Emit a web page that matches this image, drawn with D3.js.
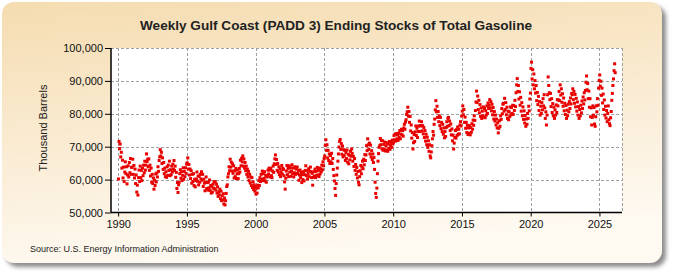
<!DOCTYPE html>
<html>
<head>
<meta charset="utf-8">
<script src="https://cdn.jsdelivr.net/npm/d3@7/dist/d3.min.js"></script>
<style>
  body { margin: 0; background: #fff; }
  text { font-family: "Liberation Sans", Arial, sans-serif; }
</style>
</head>
<body>
<svg id="chart" width="675" height="275"></svg>
<script>
// readings, 24 per year (thousand barrels), Jan -> Dec
const startYear = 1990;
const perYear = 24;
const stocks = [
  // 1990
  60200, 71600, 69400, 70800, 66900, 68300, 63500, 65900, 60500, 63800, 59400, 62300, 65400, 61800, 63900, 58700, 61400, 64200, 60800, 65200, 62100, 66400, 61600, 63700,
  // 1991
  63800, 66200, 61600, 64300, 60500, 63200, 58800, 61400, 56200, 58300, 55300, 60600, 62900, 59400, 64100, 60600, 62800, 59700, 63500, 61200, 64400, 62100, 65600, 62900,
  // 1992
  64400, 67800, 65500, 66200, 63900, 66300, 62800, 64400, 61100, 63500, 59200, 61600, 58800, 60500, 57100, 59800, 58200, 61700, 59300, 62000, 60800, 63900, 62500, 65800,
  // 1993
  66900, 69100, 67200, 68300, 64900, 66600, 63100, 65200, 61800, 63500, 60900, 62400, 60700, 63900, 61300, 64400, 62800, 65600, 61200, 63000, 61500, 64100, 62300, 64700,
  // 1994
  63200, 65800, 62800, 64100, 60700, 62200, 57300, 59100, 56100, 58400, 59200, 61800, 63000, 60400, 62400, 59700, 61300, 63600, 60100, 62500, 60900, 63600, 61900, 64700,
  // 1995
  65100, 66600, 63200, 64600, 61400, 63200, 60300, 62700, 58900, 61600, 59400, 61800, 58200, 60100, 57800, 59700, 60200, 62300, 59500, 61100, 58400, 61000, 59200, 61600,
  // 1996
  60200, 62400, 59800, 61600, 57900, 60100, 58900, 56600, 59200, 60800, 57300, 59100, 56800, 59200, 57500, 59900, 56700, 58200, 55900, 57800, 56200, 58600, 57400, 59400,
  // 1997
  57200, 59300, 56800, 58600, 55900, 57800, 54900, 56300, 55400, 57100, 54200, 56500, 53600, 55100, 53800, 55700, 52600, 54400, 52300, 53600, 55800, 57900, 58400, 60800,
  // 1998
  61800, 63900, 62700, 66200, 63800, 65300, 62600, 64800, 61900, 64200, 60500, 62700, 60900, 63400, 60300, 61800, 62900, 60300, 61800, 63400, 62300, 65900, 64200, 66500,
  // 1999
  65400, 67200, 64100, 66300, 63500, 65200, 62700, 64100, 61600, 63200, 60800, 62500, 59700, 61600, 59000, 60800, 58200, 60600, 57600, 59300, 57000, 58400, 56500, 57800,
  // 2000
  55600, 57400, 55900, 58300, 57500, 59700, 58200, 60600, 59400, 61600, 60100, 62600, 59700, 61800, 60400, 62400, 59600, 61300, 59200, 60800, 61100, 62900, 61700, 63500,
  // 2001
  62900, 60800, 63400, 61200, 60600, 62600, 64100, 62200, 64800, 66300, 67500, 64600, 66100, 62800, 64900, 62300, 63900, 61500, 63300, 60900, 62400, 64300, 61700, 63400,
  // 2002
  63100, 61200, 59300, 57100, 60400, 62600, 64300, 61500, 63400, 60900, 64200, 62300, 63600, 61000, 62600, 64500, 61800, 63500, 60800, 62100, 63900, 61600, 63200, 61800,
  // 2003
  63800, 61900, 62800, 59800, 61400, 62900, 60600, 62200, 59100, 61500, 60000, 62400, 59600, 61500, 62800, 64200, 61200, 62700, 60200, 61800, 63300, 60900, 62500, 63800,
  // 2004
  62400, 60600, 61900, 58300, 60700, 62400, 61100, 63200, 60600, 62500, 61300, 63700, 61400, 62800, 60900, 63500, 61700, 63300, 62400, 64400, 63000, 65400, 64200, 66400,
  // 2005
  67200, 70400, 72100, 68900, 70600, 66600, 68900, 65800, 67800, 64900, 67300, 65400, 68000, 64900, 66400, 63100, 61200, 59600, 57300, 55200, 58800, 61400, 63500, 65600,
  // 2006
  67800, 69900, 71600, 72200, 69200, 71000, 67700, 70200, 66900, 69100, 67300, 68900, 65800, 68200, 66400, 69000, 65300, 67700, 64800, 67400, 66000, 68600, 67100, 69300,
  // 2007
  68000, 65600, 67100, 64000, 66400, 62800, 64600, 61600, 63700, 60500, 62500, 59200, 58400, 60900, 62700, 64300, 61800, 63800, 65600, 63300, 66200, 64500, 67600, 65800,
  // 2008
  67500, 70300, 68800, 72400, 70600, 69200, 71100, 67800, 70500, 66900, 68800, 66100, 67800, 65200, 66700, 63100, 59200, 55800, 54600, 57400, 61800, 65600, 67900, 69800,
  // 2009
  70300, 72500, 70600, 71900, 69300, 71800, 68900, 70700, 69300, 71400, 68700, 70300, 69000, 71200, 68600, 70800, 69500, 71600, 69200, 70400, 71300, 69800, 72000, 70900,
  // 2010
  71200, 73400, 72100, 73800, 71700, 74000, 72400, 73600, 71900, 74100, 72800, 74900, 72400, 73800, 75300, 73600, 74900, 73200, 75700, 76800, 75300, 77500, 78200, 79800,
  // 2011
  80600, 82000, 79300, 80700, 77400, 79200, 74800, 76600, 72600, 74300, 69300, 71200, 73700, 71600, 74500, 76300, 73400, 75600, 72800, 74600, 76300, 77800, 74600, 76400,
  // 2012
  76300, 77600, 74800, 76400, 73900, 75800, 72800, 74900, 71700, 73800, 70600, 72900, 69800, 71800, 68600, 70600, 67200, 66600, 68400, 70300, 72400, 74600, 73500, 76800,
  // 2013
  78400, 81200, 84000, 80600, 82300, 78900, 80700, 77600, 79400, 76400, 78900, 75500, 77400, 74600, 76800, 73800, 75700, 72700, 74600, 73100, 75800, 77600, 76200, 78600,
  // 2014
  78900, 76400, 77800, 74900, 76900, 73600, 75400, 71800, 73500, 69300, 71100, 72800, 74900, 72600, 75200, 73400, 76000, 73800, 75300, 73900, 76600, 77600, 76300, 79300,
  // 2015
  80800, 82400, 79700, 81300, 77400, 79000, 75600, 77400, 74300, 76500, 73700, 75700, 74100, 76400, 73600, 75800, 74400, 77000, 75300, 78100, 76500, 79400, 78000, 81000,
  // 2016
  83600, 86900, 83400, 85400, 81300, 84100, 80300, 82800, 79200, 81800, 78600, 80800, 79400, 82100, 79000, 81600, 78800, 80900, 79600, 82400, 80100, 83300, 81600, 82600,
  // 2017
  84300, 81800, 83700, 80900, 82900, 79700, 81900, 78400, 80700, 77800, 79600, 76600, 78400, 75700, 77300, 74200, 75600, 77900, 76200, 79400, 78300, 81600, 80000, 82900,
  // 2018
  83200, 80800, 84700, 81300, 83400, 79700, 82000, 78600, 80800, 78200, 80600, 79200, 82100, 79700, 81900, 80100, 82600, 79800, 82500, 81000, 84100, 82200, 86400, 88800,
  // 2019
  90700, 86800, 88600, 84500, 86700, 82600, 85000, 80800, 83400, 79400, 82100, 78300, 80900, 77200, 79500, 76200, 78400, 76800, 80100, 78600, 82300, 80900, 84500, 86300,
  // 2020
  93800, 95700, 90600, 93400, 88800, 92100, 87600, 90100, 86300, 88600, 84000, 86500, 82800, 85300, 81000, 83700, 79600, 82300, 80100, 83400, 81200, 84600, 82400, 85800,
  // 2021
  81800, 78600, 80600, 76600, 79600, 85800, 91200, 88600, 86400, 84300, 86200, 82200, 84600, 80400, 83100, 79400, 82000, 78600, 81200, 79600, 82700, 80400, 84300, 82400,
  // 2022
  84200, 86800, 84000, 88800, 85700, 87600, 83500, 86100, 82300, 84800, 80900, 83200, 79800, 82500, 78600, 81100, 79400, 82900, 80600, 83700, 81600, 84800, 83000, 86200,
  // 2023
  85800, 87600, 84300, 86800, 83200, 85900, 82100, 84700, 80800, 83600, 79600, 82200, 78600, 81300, 79400, 82600, 80300, 83900, 81600, 85100, 83000, 86400, 84200, 87100,
  // 2024
  89600, 91500, 87300, 89200, 84600, 86900, 82000, 84600, 79100, 81800, 76600, 78900, 82400, 79600, 81900, 76900, 76200, 79100, 82400, 80600, 84600, 82600, 87800, 90100,
  // 2025
  91800, 88400, 89900, 85600, 87800, 83300, 86000, 81300, 84200, 79600, 82300, 78700, 81000, 77600, 80100, 82400, 78200, 77000, 76400, 78800, 80700, 84100, 86200, 88600,
  // 2026
  90600, 93100, 95200, 92500
];

const xTicks = [1990, 1995, 2000, 2005, 2010, 2015, 2020, 2025];
const yTicks = [50000, 60000, 70000, 80000, 90000, 100000];
const xDomain = [1989.48, 2026.64];

const title = 'Weekly Gulf Coast (PADD 3) Ending Stocks of Total Gasoline';
const yLabel = 'Thousand Barrels';
const source = 'Source: U.S. Energy Information Administration';

const svg = d3.select('#chart');
const plot = {left: 111, right: 622, top: 48, bottom: 212.5};

// panel background with shadow
const defs = svg.append('defs');
const bg = defs.append('linearGradient')
  .attr('id', 'bg').attr('x1', 0).attr('y1', 0).attr('x2', 0.25).attr('y2', 1);
bg.append('stop').attr('offset', '0%').attr('stop-color', '#f5dcb0');
bg.append('stop').attr('offset', '100%').attr('stop-color', '#fef9f1');

const blur = defs.append('filter').attr('id', 'shadow')
  .attr('x', '-5%').attr('y', '-5%').attr('width', '110%').attr('height', '110%');
blur.append('feGaussianBlur').attr('stdDeviation', 2);

svg.append('rect')
  .attr('x', 6).attr('y', 6).attr('width', 660).attr('height', 261)
  .attr('rx', 12).attr('fill', '#8c8c8c').attr('filter', 'url(#shadow)');
svg.append('rect')
  .attr('x', 2).attr('y', 2).attr('width', 660).attr('height', 261)
  .attr('rx', 12).attr('fill', 'url(#bg)');

svg.append('rect')
  .attr('x', plot.left).attr('y', plot.top)
  .attr('width', plot.right - plot.left).attr('height', plot.bottom - plot.top)
  .attr('fill', '#fff');

const x = d3.scaleLinear().domain(xDomain).range([plot.left, plot.right]);
const y = d3.scaleLinear().domain([50000, 100000]).range([plot.bottom, plot.top]);

// grid
const grid = svg.append('g').attr('stroke', '#a0a0a0').attr('stroke-dasharray', '3,2').attr('stroke-width', 1);
grid.selectAll('.hg').data(yTicks.slice(1)).enter().append('line')
  .attr('x1', plot.left).attr('x2', plot.right)
  .attr('y1', d => Math.round(y(d)) + 0.5).attr('y2', d => Math.round(y(d)) + 0.5);
grid.selectAll('.vg').data(xTicks).enter().append('line')
  .attr('x1', d => Math.round(x(d)) + 0.5).attr('x2', d => Math.round(x(d)) + 0.5)
  .attr('y1', plot.top).attr('y2', plot.bottom);
grid.append('line')
  .attr('x1', plot.right + 0.5).attr('x2', plot.right + 0.5)
  .attr('y1', plot.top).attr('y2', plot.bottom);

// points
const pts = stocks.map((v, i) => ({t: startYear + (i + 0.5) / perYear, v: v}));
svg.append('g').selectAll('rect').data(pts).enter().append('rect')
  .attr('x', d => x(d.t) - 1.5).attr('y', d => y(d.v) - 1.5)
  .attr('width', 3).attr('height', 3)
  .attr('fill', '#e80000');

// axes
const yAxis = svg.append('g')
  .attr('transform', 'translate(' + plot.left + ',0)')
  .call(d3.axisLeft(y).tickValues(yTicks).tickFormat(d3.format(',')).tickSize(6).tickPadding(2));
const xAxis = svg.append('g')
  .attr('transform', 'translate(0,' + plot.bottom + ')')
  .call(d3.axisBottom(x).tickValues(xTicks).tickFormat(d3.format('d')).tickSize(4).tickPadding(4));
[yAxis, xAxis].forEach(a => {
  a.selectAll('text').attr('font-size', 11).attr('fill', '#111').attr('font-family', '"Liberation Sans", Arial, sans-serif');
  a.selectAll('line').attr('stroke', '#000');
  a.select('.domain').attr('stroke', '#000').attr('stroke-width', 1.5);
});
yAxis.select('.domain').attr('d', 'M0,' + plot.top + 'V' + plot.bottom);
xAxis.select('.domain').attr('d', 'M' + plot.left + ',0H' + plot.right);

// texts
svg.append('text')
  .attr('x', 336).attr('y', 30)
  .attr('text-anchor', 'middle')
  .attr('font-family', '"Liberation Sans Narrow", "Liberation Sans", Arial, sans-serif')
  .attr('font-weight', 'bold').attr('font-size', 13.6).attr('fill', '#222')
  .text(title);

svg.append('text')
  .attr('transform', 'translate(47,128) rotate(-90)')
  .attr('text-anchor', 'middle')
  .attr('font-size', 11).attr('fill', '#222')
  .text(yLabel);

svg.append('text')
  .attr('x', 30).attr('y', 252)
  .attr('font-size', 9).attr('fill', '#222')
  .text(source);
</script>
</body>
</html>
